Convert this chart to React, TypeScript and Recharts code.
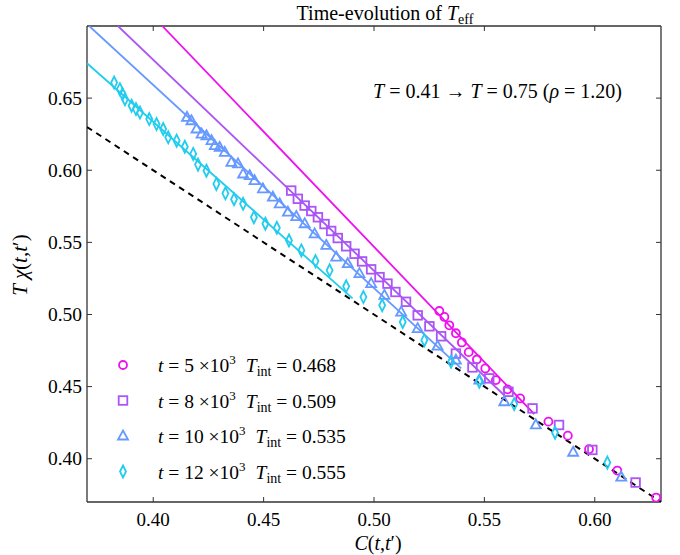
import React from "react"
import { ScatterChart, Scatter, XAxis, YAxis, Legend } from "recharts"

const W = 680
const H = 555
const serif = "'Liberation Serif', 'DejaVu Serif', serif"
const frame = "#333333"

const xTicks = [0.4, 0.45, 0.5, 0.55, 0.6]
const yTicks = [0.4, 0.45, 0.5, 0.55, 0.6, 0.65]

// t = 5x10^3 (circles)
const c5C = [0.5296, 0.5319, 0.5341, 0.5371, 0.5398, 0.5429, 0.5466, 0.5504, 0.5552, 0.5605, 0.5662, 0.579, 0.5878, 0.5974, 0.6102, 0.6278]
const c5Y = [0.5024, 0.4983, 0.4925, 0.487, 0.4806, 0.4739, 0.4688, 0.4626, 0.4545, 0.4481, 0.4418, 0.4257, 0.416, 0.4066, 0.3918, 0.3731]

// t = 8x10^3 (squares)
const c8C = [0.4625, 0.4655, 0.4686, 0.4716, 0.4746, 0.4776, 0.4806, 0.4836, 0.4874, 0.4912, 0.4946, 0.4987, 0.5025, 0.5061, 0.5097, 0.5145, 0.5198, 0.5251, 0.5304, 0.5371, 0.5446, 0.5522, 0.5609, 0.5718, 0.5838, 0.5989, 0.6185]
const c8Y = [0.5859, 0.5802, 0.5755, 0.5717, 0.5674, 0.5627, 0.5579, 0.553, 0.5473, 0.5421, 0.5368, 0.5313, 0.5259, 0.5214, 0.5156, 0.5088, 0.4994, 0.4918, 0.4849, 0.4729, 0.4633, 0.4557, 0.4464, 0.4349, 0.4234, 0.4061, 0.3835]

// t = 10x10^3 (triangles)
const c10C = [0.4153, 0.4173, 0.4196, 0.4219, 0.4241, 0.4264, 0.4279, 0.4301, 0.4324, 0.4354, 0.4384, 0.4407, 0.4437, 0.4459, 0.4497, 0.4542, 0.4573, 0.461, 0.4648, 0.4686, 0.4731, 0.4784, 0.4829, 0.4881, 0.4934, 0.4987, 0.5047, 0.5123, 0.5198, 0.5288, 0.5371, 0.5477, 0.559, 0.5733, 0.5902, 0.612]
const c10Y = [0.6366, 0.6343, 0.6286, 0.6251, 0.6239, 0.6205, 0.617, 0.6158, 0.6124, 0.6055, 0.6044, 0.5974, 0.5963, 0.5928, 0.5871, 0.5813, 0.5767, 0.5709, 0.5679, 0.5629, 0.5559, 0.5479, 0.5398, 0.5352, 0.5283, 0.5214, 0.5133, 0.5017, 0.4902, 0.478, 0.4683, 0.4545, 0.4395, 0.4234, 0.4045, 0.3872]

// t = 12x10^3 (diamonds)
const c12C = [0.3823, 0.3849, 0.3861, 0.3872, 0.3902, 0.3922, 0.394, 0.3982, 0.4015, 0.4045, 0.4068, 0.4106, 0.4143, 0.4181, 0.4203, 0.4241, 0.4286, 0.4327, 0.4366, 0.4407, 0.4456, 0.4508, 0.456, 0.4615, 0.4671, 0.4735, 0.4799, 0.4874, 0.4952, 0.5037, 0.513, 0.5228, 0.5349, 0.5477, 0.5635, 0.582, 0.6057]
const c12Y = [0.6608, 0.6562, 0.6528, 0.6493, 0.6447, 0.6424, 0.64, 0.6355, 0.632, 0.6286, 0.6228, 0.6205, 0.6163, 0.6113, 0.6039, 0.5997, 0.5905, 0.584, 0.5799, 0.5767, 0.5674, 0.5629, 0.5601, 0.5513, 0.5444, 0.537, 0.5306, 0.5195, 0.5121, 0.5064, 0.4948, 0.4822, 0.4672, 0.4534, 0.4379, 0.418, 0.3973]

// fitted lines (end points)
const fit5C = [0.4041, 0.5726]
const fit5Y = [0.7, 0.431]
const fit8C = [0.384, 0.559]
const fit8Y = [0.7, 0.444]
const fit10C = [0.371, 0.5395]
const fit10Y = [0.7, 0.4626]
const fit12C = [0.37, 0.4903]
const fit12Y = [0.6742, 0.5112]
const fdtC = [0.37, 0.63]
const fdtY = [0.63, 0.37]

const tLabels = ["5", "8", "10", "12"]
const tintLabels = ["0.468", "0.509", "0.535", "0.555"]

const colors = ["#ee10ee", "#aa55f5", "#6699ff", "#22ccee"]
const markers = ["circle", "square", "triangle", "diamond"]

const zip = (cs: number[], ys: number[]) => cs.map((c, i) => ({ c, y: ys[i] }))

const pointSets = [zip(c5C, c5Y), zip(c8C, c8Y), zip(c10C, c10Y), zip(c12C, c12Y)]
const fitSets = [zip(fit5C, fit5Y), zip(fit8C, fit8Y), zip(fit10C, fit10Y), zip(fit12C, fit12Y)]
const fdtSet = zip(fdtC, fdtY)

function Marker({ kind, cx, cy, color }: { kind: string; cx: number; cy: number; color: string }) {
  const common = { fill: "none", stroke: color, strokeWidth: 1.8 }
  if (kind === "circle") return <circle cx={cx} cy={cy} r={4} {...common} />
  if (kind === "square") return <rect x={cx - 4.3} y={cy - 4.3} width={8.6} height={8.6} {...common} />
  if (kind === "triangle")
    return <path d={`M${cx},${cy - 5.5} L${cx + 5},${cy + 3.5} L${cx - 5},${cy + 3.5} Z`} {...common} />
  return <path d={`M${cx},${cy - 6} L${cx + 3},${cy} L${cx},${cy + 6} L${cx - 3},${cy} Z`} {...common} />
}

const BottomTick = (props: any) => {
  const { x, y, payload } = props
  return (
    <g>
      <line x1={x} y1={y} x2={x} y2={y - 5} stroke={frame} />
      <text x={x} y={y + 24} textAnchor="middle" fontSize={19} fontFamily={serif} fill="#000">
        {payload.value.toFixed(2)}
      </text>
    </g>
  )
}

const LeftTick = (props: any) => {
  const { x, y, payload } = props
  return (
    <g>
      <line x1={x} y1={y} x2={x + 5} y2={y} stroke={frame} />
      <text x={x - 5} y={y + 6.5} textAnchor="end" fontSize={19.5} fontFamily={serif} fill="#000">
        {payload.value.toFixed(2)}
      </text>
    </g>
  )
}

const TopTick = (props: any) => {
  const { x, y } = props
  return <line x1={x} y1={y} x2={x} y2={y + 5} stroke={frame} />
}

const RightTick = (props: any) => {
  const { x, y } = props
  return <line x1={x} y1={y} x2={x - 5} y2={y} stroke={frame} />
}

const noShape = () => <g />

function LegendBox() {
  return (
    <svg width={280} height={150}>
      {tLabels.map((t, i) => {
        const cy = 15 + i * 35.5
        return (
          <g key={t}>
            <Marker kind={markers[i]} cx={18} cy={cy} color={colors[i]} />
            <text x={53} y={cy + 7} fontSize={19.5} fontFamily={serif} fill="#000">
              <tspan fontStyle="italic">t</tspan>
              <tspan> = {t} ×10</tspan>
              <tspan fontSize={13} dy={-8}>3</tspan>
              <tspan dy={8} dx={10} fontStyle="italic">T</tspan>
              <tspan fontSize={14} dy={4}>int</tspan>
              <tspan dy={-4}> = {tintLabels[i]}</tspan>
            </text>
          </g>
        )
      })}
    </svg>
  )
}

export default function App() {
  return (
    <div style={{ position: "absolute", left: 0, top: 0, width: W, height: H, background: "#fff" }}>
      <ScatterChart width={W} height={H} margin={{ top: 25, right: 18, bottom: 13, left: 27 }}>
        <XAxis
          type="number"
          dataKey="c"
          domain={[0.37, 0.63]}
          allowDataOverflow
          ticks={xTicks}
          height={40}
          tickSize={0}
          tickMargin={0}
          tickLine={false}
          axisLine={{ stroke: frame, strokeWidth: 1.3 }}
          tick={<BottomTick />}
        />
        <XAxis
          xAxisId="top"
          orientation="top"
          type="number"
          dataKey="c"
          domain={[0.37, 0.63]}
          allowDataOverflow
          ticks={xTicks}
          height={1}
          tickSize={0}
          tickMargin={0}
          tickLine={false}
          axisLine={{ stroke: frame, strokeWidth: 1.3 }}
          tick={<TopTick />}
        />
        <YAxis
          type="number"
          dataKey="y"
          domain={[0.37, 0.7]}
          allowDataOverflow
          ticks={yTicks}
          width={60}
          tickSize={0}
          tickMargin={0}
          tickLine={false}
          axisLine={{ stroke: frame, strokeWidth: 1.3 }}
          tick={<LeftTick />}
        />
        <YAxis
          yAxisId="right"
          orientation="right"
          type="number"
          dataKey="y"
          domain={[0.37, 0.7]}
          allowDataOverflow
          ticks={yTicks}
          width={1}
          tickSize={0}
          tickMargin={0}
          tickLine={false}
          axisLine={{ stroke: frame, strokeWidth: 1.3 }}
          tick={<RightTick />}
        />
        <Scatter
          data={fdtSet}
          xAxisId="top"
          yAxisId="right"
          line={{ stroke: "#000", strokeWidth: 2, strokeDasharray: "6 5" }}
          shape={noShape}
          legendType="none"
          isAnimationActive={false}
        />
        {fitSets.map((pts, i) => (
          <Scatter
            key={"fit" + i}
            data={pts}
            line={{ stroke: colors[i], strokeWidth: 1.8 }}
            shape={noShape}
            legendType="none"
            isAnimationActive={false}
          />
        ))}
        {pointSets.map((pts, i) => (
          <Scatter
            key={"pts" + i}
            data={pts}
            shape={(p: any) => <Marker kind={markers[i]} cx={p.cx} cy={p.cy} color={colors[i]} />}
            isAnimationActive={false}
          />
        ))}
        <Legend
          layout="horizontal"
          verticalAlign="middle"
          align="center"
          content={() => <LegendBox />}
          wrapperStyle={{ left: 105, top: 350, width: 280, height: 150 }}
        />
      </ScatterChart>
      <svg width={W} height={H} style={{ position: "absolute", left: 0, top: 0, pointerEvents: "none" }}>
        <text x={385} y={20} textAnchor="middle" fontSize={20} fontFamily={serif} fill="#000">
          Time-evolution of <tspan fontStyle="italic">T</tspan>
          <tspan fontSize={14} dy={4}>eff</tspan>
        </text>
        <text x={373} y={98} fontSize={20} fontFamily={serif} fill="#000">
          <tspan fontStyle="italic">T</tspan>
          <tspan> = 0.41 → </tspan>
          <tspan fontStyle="italic">T</tspan>
          <tspan> = 0.75 (</tspan>
          <tspan fontStyle="italic">ρ</tspan>
          <tspan> = 1.20)</tspan>
        </text>
        <text x={378} y={550} textAnchor="middle" fontSize={20} fontFamily={serif} fill="#000">
          <tspan fontStyle="italic">C</tspan>(<tspan fontStyle="italic">t</tspan>,<tspan fontStyle="italic">t</tspan>′)
        </text>
        <text
          x={27}
          y={265}
          textAnchor="middle"
          fontSize={21}
          fontFamily={serif}
          fill="#000"
          transform="rotate(-90 27 265)"
        >
          <tspan fontStyle="italic">T χ</tspan>(<tspan fontStyle="italic">t</tspan>,<tspan fontStyle="italic">t</tspan>′)
        </text>
      </svg>
    </div>
  )
}
